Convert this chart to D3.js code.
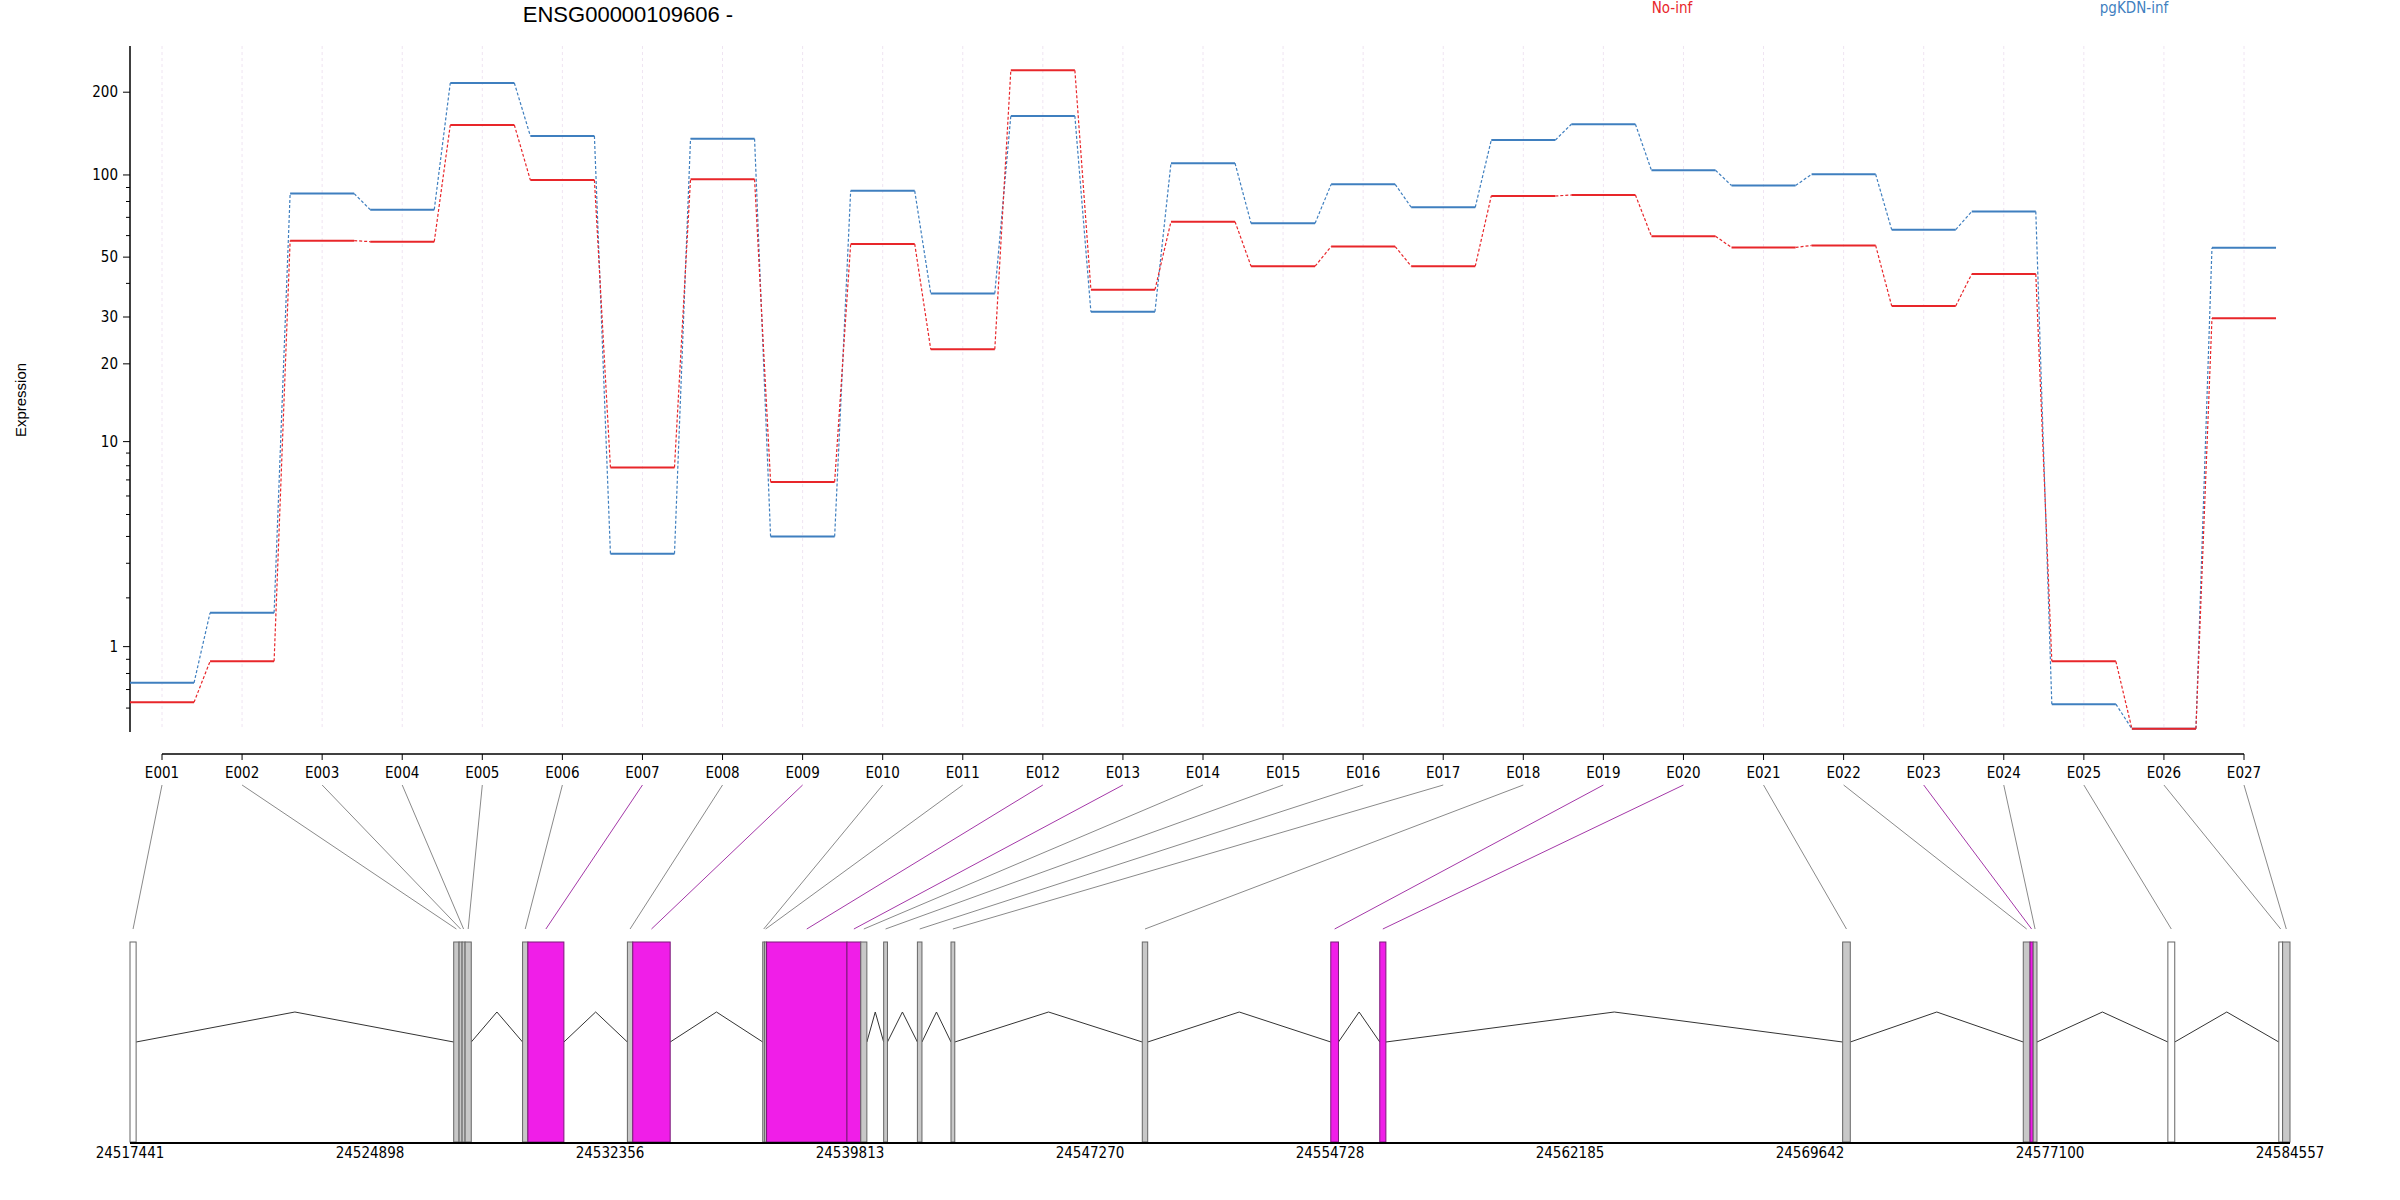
<!DOCTYPE html>
<html>
<head>
<meta charset="utf-8">
<script src="https://cdn.jsdelivr.net/npm/d3@7"></script>
<style>
  body { margin: 0; background: #fff; }
  text { font-family: "Liberation Sans Narrow", "DejaVu Sans Condensed", "Liberation Sans", sans-serif; }
</style>
</head>
<body>
<svg id="chart" width="2400" height="1200"></svg>
<script>
// exon ids, expression per condition
var exons = ["E001","E002","E003","E004","E005","E006","E007","E008","E009","E010","E011","E012","E013","E014",
             "E015","E016","E017","E018","E019","E020","E021","E022","E023","E024","E025","E026","E027"];
var noInf = [0.26,0.77,57.5,57,152,95.8,7.87,96.5,6.87,55.9,22.7,240,37.9,67.5,
             46.3,54.7,46.3,83.8,84.5,59.7,54.3,55.2,33.0,43.3,0.77,0.01,29.7];
var pgKDN = [0.48,1.65,85.5,74.7,216,138.7,3.33,135.4,4.0,87.5,36.7,164,31.4,110.4,
             66.6,92.4,76.2,134,153,104,91.5,100.6,63.1,73.5,0.24,0.01,54.1];

// exon genomic coordinates and type (w = white, g = grey, m = magenta)
var exonStart = [24517441,24527499,24527666,24527760,24527853,24529639,24529804,24532896,24533063,24537102,24537162,24537221,24539719,24540148,
                 24540859,24541907,24542951,24548895,24554752,24556274,24570657,24576269,24576480,24576577,24580762,24584209,24584327];
var exonEnd   = [24517631,24527666,24527760,24527853,24528045,24529804,24530923,24533063,24534226,24537162,24537221,24539719,24540148,24540337,
                 24540977,24542049,24543069,24549063,24554991,24556464,24570894,24576480,24576577,24576695,24580976,24584327,24584557];
var exonType  = ["w","g","g","g","g","g","m","g","m","g","g","m","m","g",
                 "g","g","g","g","m","m","g","g","m","g","w","w","g"];
var genomeTicks = [24517441,24524898,24532356,24539813,24547270,24554728,24562185,24569642,24577100,24584557];

var yTicks = [1,10,20,30,50,100,200];
var yMinor = [0.2,0.4,0.6,0.8,2,3,4,5,6,7,8,9,40,60,70,80,90,300];

var colRed = "#e8262a", colBlue = "#3f7fbf";

var svg = d3.select("#chart");

// top panel scales
var x = d3.scalePoint().domain(exons).range([162, 2244]);
var step = x.step();
var y = d3.scaleLinear().domain([0, 2.47]).range([730, 46]);
function yv(v) { return y(Math.log10(v + 1)); }

// faint vertical grid
svg.append("g").selectAll("line").data(exons).join("line")
  .attr("x1", d => x(d)).attr("x2", d => x(d))
  .attr("y1", 46).attr("y2", 730)
  .attr("stroke", "#efe4f2").attr("stroke-dasharray", "3,3");

// y axis
svg.append("line").attr("x1", 130).attr("x2", 130).attr("y1", 46).attr("y2", 732)
  .attr("stroke", "#000").attr("stroke-width", 1.5);
svg.append("g").selectAll("line").data(yMinor.filter(v => Math.log10(v + 1) < 2.47)).join("line")
  .attr("x1", 126).attr("x2", 130).attr("y1", d => yv(d)).attr("y2", d => yv(d)).attr("stroke", "#000");
var yt = svg.append("g").selectAll("g").data(yTicks).join("g")
  .attr("transform", d => "translate(0," + yv(d) + ")");
yt.append("line").attr("x1", 123).attr("x2", 130).attr("stroke", "#000");
yt.append("text").attr("x", 118).attr("dy", "0.35em").attr("text-anchor", "end")
  .attr("font-size", 15).text(d => d);

svg.append("text").attr("transform", "translate(26,400) rotate(-90)")
  .attr("text-anchor", "middle").attr("font-size", 15)
  .style("font-family", "Liberation Sans, sans-serif").text("Expression");

// step lines
function drawSeries(vals, col) {
  var g = svg.append("g");
  var hw = step * 0.4;
  g.selectAll("line.seg").data(vals).join("line").attr("class", "seg")
    .attr("x1", (d, i) => x(exons[i]) - hw).attr("x2", (d, i) => x(exons[i]) + hw)
    .attr("y1", d => yv(d)).attr("y2", d => yv(d))
    .attr("stroke", col).attr("stroke-width", 2);
  g.selectAll("line.con").data(vals.slice(1)).join("line").attr("class", "con")
    .attr("x1", (d, i) => x(exons[i]) + hw).attr("x2", (d, i) => x(exons[i + 1]) - hw)
    .attr("y1", (d, i) => yv(vals[i])).attr("y2", d => yv(d))
    .attr("stroke", col).attr("stroke-width", 1.2).attr("stroke-dasharray", "3,2");
}
drawSeries(pgKDN, colBlue);
drawSeries(noInf, colRed);

// exon axis
svg.append("line").attr("x1", 162).attr("x2", 2244).attr("y1", 754).attr("y2", 754)
  .attr("stroke", "#000").attr("stroke-width", 1.5);
var xt = svg.append("g").selectAll("g").data(exons).join("g")
  .attr("transform", d => "translate(" + x(d) + ",754)");
xt.append("line").attr("y1", 0).attr("y2", 6).attr("stroke", "#000");
xt.append("text").attr("y", 24).attr("text-anchor", "middle").attr("font-size", 15).text(d => d);

// title & legend
svg.append("text").attr("x", 628).attr("y", 22).attr("text-anchor", "middle")
  .attr("font-size", 22).style("font-family", "Liberation Sans, sans-serif").text("ENSG00000109606 -");
svg.append("text").attr("x", 1672).attr("y", 13).attr("text-anchor", "middle")
  .attr("font-size", 15).attr("fill", colRed).text("No-inf");
svg.append("text").attr("x", 2134).attr("y", 13).attr("text-anchor", "middle")
  .attr("font-size", 15).attr("fill", colBlue).text("pgKDN-inf");

// gene model
var gx = d3.scaleLinear().domain([24517441, 24584557]).range([130, 2290]);
var boxTop = 942, boxBot = 1142, base = 1042, peak = 1012;
var fills = { w: "#ffffff", g: "#c8c8c8", m: "#f01ee8" };

// connectors
svg.append("g").selectAll("line").data(exons).join("line")
  .attr("x1", d => x(d)).attr("y1", 785)
  .attr("x2", (d, i) => gx((exonStart[i] + exonEnd[i]) / 2)).attr("y2", 929)
  .attr("stroke", (d, i) => exonType[i] === "m" ? "#a438a8" : "#8a8a8a").attr("stroke-width", 1);

// introns
var introns = [];
for (var i = 1; i < exons.length; i++) {
  if (exonStart[i] > exonEnd[i - 1]) introns.push([exonEnd[i - 1], exonStart[i]]);
}
svg.append("g").selectAll("path").data(introns).join("path")
  .attr("d", d => "M" + gx(d[0]) + "," + base + "L" + gx((d[0] + d[1]) / 2) + "," + peak + "L" + gx(d[1]) + "," + base)
  .attr("fill", "none").attr("stroke", "#333").attr("stroke-width", 1);

// exon boxes
svg.append("g").selectAll("rect").data(exons).join("rect")
  .attr("x", (d, i) => gx(exonStart[i])).attr("y", boxTop)
  .attr("width", (d, i) => Math.max(1, gx(exonEnd[i]) - gx(exonStart[i])))
  .attr("height", boxBot - boxTop)
  .attr("fill", (d, i) => fills[exonType[i]])
  .attr("stroke", (d, i) => exonType[i] === "m" ? "#7a1a78" : "#666").attr("stroke-width", 1);

// genome axis
svg.append("line").attr("x1", 130).attr("x2", 2290).attr("y1", 1143).attr("y2", 1143)
  .attr("stroke", "#000").attr("stroke-width", 2);
svg.append("g").selectAll("text").data(genomeTicks).join("text")
  .attr("x", d => gx(d)).attr("y", 1158).attr("text-anchor", "middle")
  .attr("font-size", 15).text(d => d);
</script>
</body>
</html>
